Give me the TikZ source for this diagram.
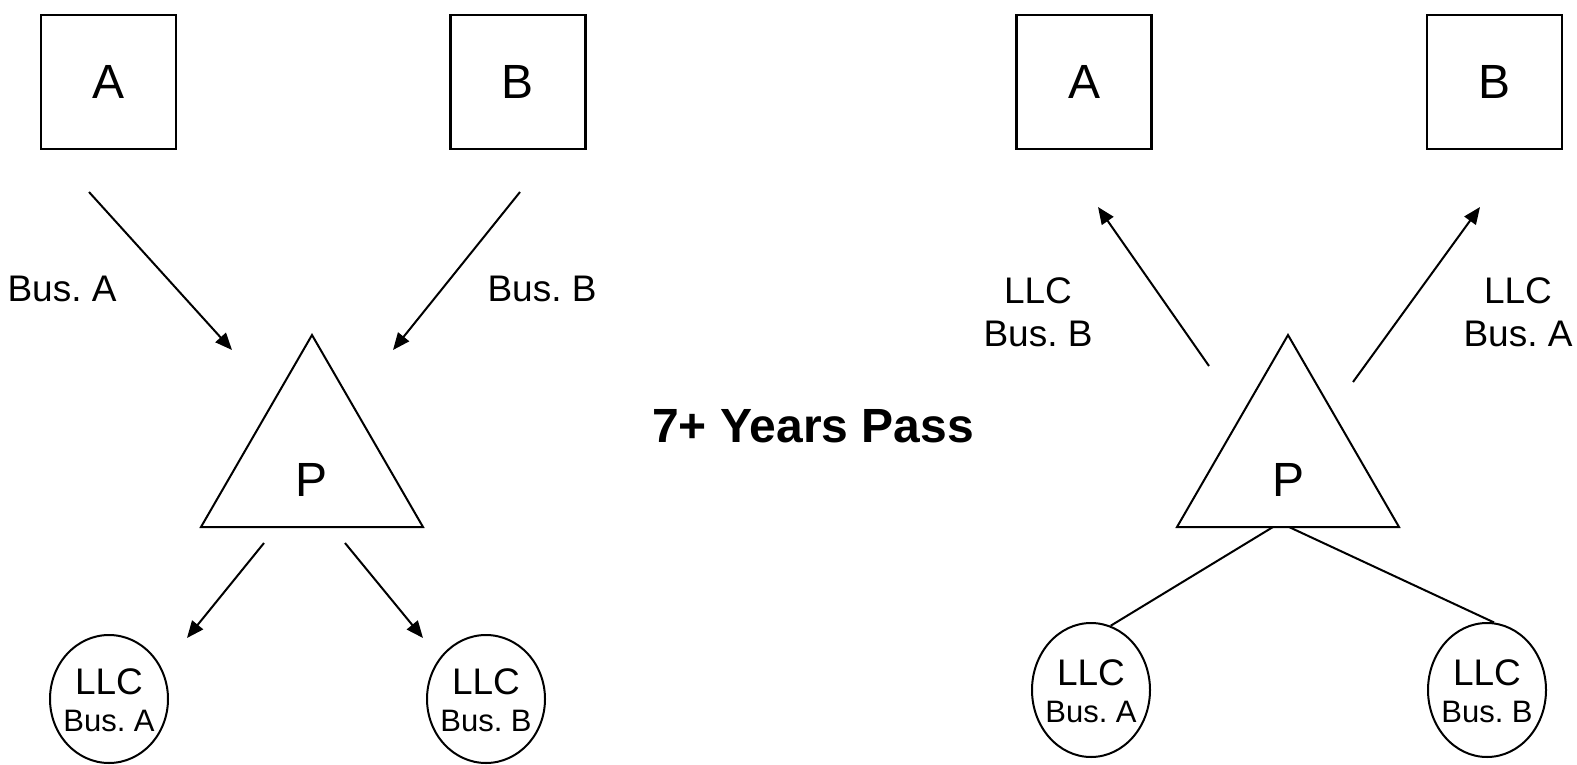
\documentclass[tikz,border=0pt]{standalone}
\usepackage{fontspec}
\setmainfont{Liberation Sans}
\frenchspacing
\usetikzlibrary{arrows.meta,shapes.geometric}
\begin{document}
\begin{tikzpicture}[x=1pt,y=-1pt,
  line width=2pt,
  party/.style={draw, rectangle, line width=2.2pt, minimum width=135pt, minimum height=134pt,
    inner sep=0pt, font=\fontsize{48}{56}\selectfont},
  bigletter/.style={inner sep=0pt, font=\fontsize{48}{56}\selectfont},
  llc/.style={draw, ellipse, minimum width=118pt, minimum height=128pt, inner sep=0pt},
  llctext/.style={align=center, inner sep=0pt, font=\fontsize{37}{37}\selectfont},
  lbl/.style={align=center, inner sep=0pt, font=\fontsize{37}{43}\selectfont},
  arr/.style={-{Triangle[length=17pt,width=14pt]}},
  title/.style={inner sep=0pt, font=\bfseries\fontsize{48}{56}\selectfont}]
\useasboundingbox (0,0) rectangle (1577,765);

% ---------- before: two owners feeding the holding entity ----------
\node[party] (aL) at (108.5,82) {A};
\node[party] (bL) at (518,82) {B};

\coordinate (tLtop) at (312,335);
\coordinate (tLleft) at (201,527);
\coordinate (tLright) at (423,527);
\draw[line join=miter] (tLtop) -- (tLleft) -- (tLright) -- cycle;
\node[bigletter] (pL) at (312,480) {P};

\node[llc] (cAL) at (109,699) {};
\node[llctext] (cALt) at (109,700) {LLC\\{\fontsize{31}{37}\selectfont Bus. A}};
\node[llc] (cBL) at (486,699) {};
\node[llctext] (cBLt) at (486,700) {LLC\\{\fontsize{31}{37}\selectfont Bus. B}};

\coordinate (aLout) at (89,192);
\coordinate (pLinA) at (232,350);
\coordinate (bLout) at (520,192);
\coordinate (pLinB) at (393,350);
\coordinate (pLoutA) at (264,543);
\coordinate (cALin) at (187,638);
\coordinate (pLoutB) at (345,543);
\coordinate (cBLin) at (423,638);
\draw[arr] (aLout) -- (pLinA);
\draw[arr] (bLout) -- (pLinB);
\draw[arr] (pLoutA) -- (cALin);
\draw[arr] (pLoutB) -- (cBLin);

\node[lbl] (busA) at (62,289) {Bus. A};
\node[lbl] (busB) at (542,289) {Bus. B};

% ---------- middle caption ----------
\node[title] (years) at (813,426) {7+ Years Pass};

% ---------- after: the entity hands the businesses back crosswise ----------
\node[party] (aR) at (1084,82) {A};
\node[party] (bR) at (1494.5,82) {B};

\coordinate (tRtop) at (1288,335);
\coordinate (tRleft) at (1177,527);
\coordinate (tRright) at (1399,527);
\draw[line join=miter] (tRtop) -- (tRleft) -- (tRright) -- cycle;
\node[bigletter] (pR) at (1288,480) {P};

\node[llc, minimum height=134pt] (cAR) at (1091,690) {};
\node[llctext] (cARt) at (1091,691) {LLC\\{\fontsize{31}{37}\selectfont Bus. A}};
\node[llc, minimum height=134pt] (cBR) at (1487,690) {};
\node[llctext] (cBRt) at (1487,691) {LLC\\{\fontsize{31}{37}\selectfont Bus. B}};

\coordinate (pRoutA) at (1209,366);
\coordinate (aRin) at (1098,207);
\coordinate (pRoutB) at (1353,382);
\coordinate (bRin) at (1480,207);
\draw[arr] (pRoutA) -- (aRin);
\draw[arr] (pRoutB) -- (bRin);

\coordinate (pRbaseA) at (1273,527);
\coordinate (pRbaseB) at (1289,527);
\draw (pRbaseA) -- (cAR.73);
\draw (pRbaseB) -- (cBR.84);

\node[lbl] (llcBusB) at (1038,312) {LLC\\Bus. B};
\node[lbl] (llcBusA) at (1518,312) {LLC\\Bus. A};
\end{tikzpicture}
\end{document}
